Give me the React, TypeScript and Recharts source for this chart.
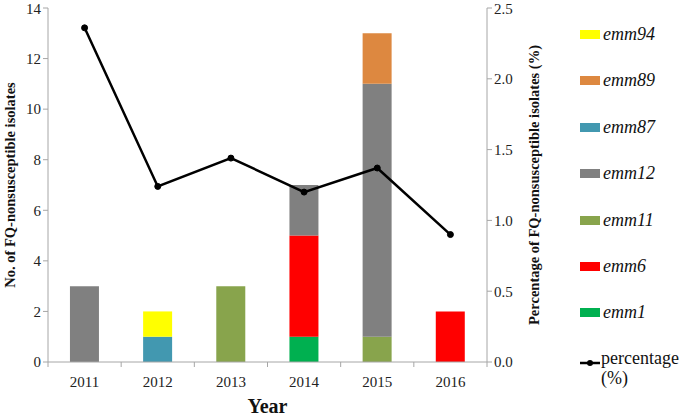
import React from "react";
import { ComposedChart, Bar, Line, XAxis, YAxis, Label } from "recharts";

const years = ["2011", "2012", "2013", "2014", "2015", "2016"];
const emm1 = [0, 0, 0, 1, 0, 0];
const emm6 = [0, 0, 0, 4, 0, 2];
const emm11 = [0, 0, 3, 0, 1, 0];
const emm12 = [3, 0, 0, 2, 10, 0];
const emm87 = [0, 1, 0, 0, 0, 0];
const emm89 = [0, 0, 0, 0, 2, 0];
const emm94 = [0, 1, 0, 0, 0, 0];
const percentage = [2.36, 1.24, 1.44, 1.2, 1.37, 0.9];

const leftTicks = [0, 2, 4, 6, 8, 10, 12, 14];
const rightTicks = [0, 0.5, 1, 1.5, 2, 2.5];

const series = [
  { key: "emm1", values: emm1, color: "#00b050" },
  { key: "emm6", values: emm6, color: "#ff0000" },
  { key: "emm11", values: emm11, color: "#88a44c" },
  { key: "emm12", values: emm12, color: "#808080" },
  { key: "emm87", values: emm87, color: "#4298b0" },
  { key: "emm89", values: emm89, color: "#dd8840" },
  { key: "emm94", values: emm94, color: "#ffff00" },
];

const rows = years.map((year, i) => {
  const row: Record<string, string | number> = { year, percentage: percentage[i] };
  series.forEach((s) => {
    row[s.key] = s.values[i];
  });
  return row;
});

const FONT = "Liberation Serif, Times New Roman, serif";
const AXIS = "#a6a6a6";
const BAND = (487 - 48) / years.length;

const XTick = (props: any) => {
  const { x, y, payload, index } = props;
  const axisY = y - 8;
  return (
    <g>
      <line x1={x - BAND / 2} x2={x - BAND / 2} y1={axisY} y2={axisY + 5} stroke={AXIS} />
      {index === years.length - 1 && (
        <line x1={x + BAND / 2} x2={x + BAND / 2} y1={axisY} y2={axisY + 5} stroke={AXIS} />
      )}
      <text x={x} y={axisY + 25} textAnchor="middle" fontSize={15} fill="#222" style={{ fontFamily: FONT }}>
        {payload.value}
      </text>
    </g>
  );
};

const LegendBox = () => {
  const items = [...series].reverse();
  return (
    <div style={{ position: "absolute", left: 580, top: 0, fontFamily: FONT, fontSize: 18, color: "#111" }}>
      {items.map((s, i) => (
        <div
          key={s.key}
          style={{ position: "absolute", top: 24 + i * 46.4, display: "flex", alignItems: "center", whiteSpace: "nowrap" }}
        >
          <span style={{ width: 20, height: 9, background: s.color, display: "inline-block", marginRight: 3 }} />
          <span style={{ fontStyle: "italic" }}>{s.key}</span>
        </div>
      ))}
      <div style={{ position: "absolute", top: 352, display: "flex", alignItems: "flex-start", whiteSpace: "nowrap" }}>
        <svg width={20} height={22} style={{ marginRight: 1 }}>
          <line x1={0} x2={20} y1={11} y2={11} stroke="#000" strokeWidth={2.5} />
          <circle cx={10} cy={11} r={3} fill="#000" />
        </svg>
        <span style={{ lineHeight: "20px", marginTop: -4 }}>
          percentage
          <br />
          (%)
        </span>
      </div>
    </div>
  );
};

const tickStyle = { fontSize: 15, fill: "#222", fontFamily: FONT };

export default function App() {
  return (
    <div
      style={{ position: "absolute", left: 0, top: 0, width: 686, height: 416, background: "#fff", fontFamily: FONT }}
    >
      <ComposedChart
        width={686}
        height={416}
        data={rows}
        margin={{ top: 8, right: 129, bottom: 24, left: 0 }}
        barCategoryGap="30%"
        style={{ fontFamily: FONT }}
      >
        <XAxis
          dataKey="year"
          stroke={AXIS}
          height={30}
          tickLine={false}
          tickSize={6}
          tickMargin={2}
          tick={<XTick />}
          interval={0}
        >
          <Label value="Year" position="bottom" offset={7} fontSize={20} fontWeight="bold" fill="#111" fontFamily={FONT} />
        </XAxis>
        <YAxis
          yAxisId="left"
          width={48}
          domain={[0, 14]}
          ticks={leftTicks}
          stroke={AXIS}
          tickSize={5}
          tick={tickStyle}
        >
          <Label
            value="No. of FQ-nonsusceptible isolates"
            angle={-90}
            position="center"
            dx={-14}
            fontSize={14.5}
            fontWeight="bold"
            fill="#111"
            fontFamily={FONT}
          />
        </YAxis>
        <YAxis
          yAxisId="right"
          orientation="right"
          width={70}
          domain={[0, 2.5]}
          ticks={rightTicks}
          stroke={AXIS}
          tickSize={5}
          tickFormatter={(v: number) => v.toFixed(1)}
          tick={tickStyle}
        >
          <Label
            value="Percentage of FQ-nonsusceptible isolates (%)"
            angle={-90}
            position="center"
            dx={12}
            fontSize={14.5}
            fontWeight="bold"
            fill="#111"
            fontFamily={FONT}
          />
        </YAxis>
        {series.map((s) => (
          <Bar key={s.key} dataKey={s.key} stackId="a" yAxisId="left" fill={s.color} isAnimationActive={false} />
        ))}
        <Line
          yAxisId="right"
          dataKey="percentage"
          stroke="#000"
          strokeWidth={2.5}
          dot={{ r: 3, fill: "#000", stroke: "#000", strokeWidth: 1 }}
          isAnimationActive={false}
        />
      </ComposedChart>
      <LegendBox />
    </div>
  );
}
